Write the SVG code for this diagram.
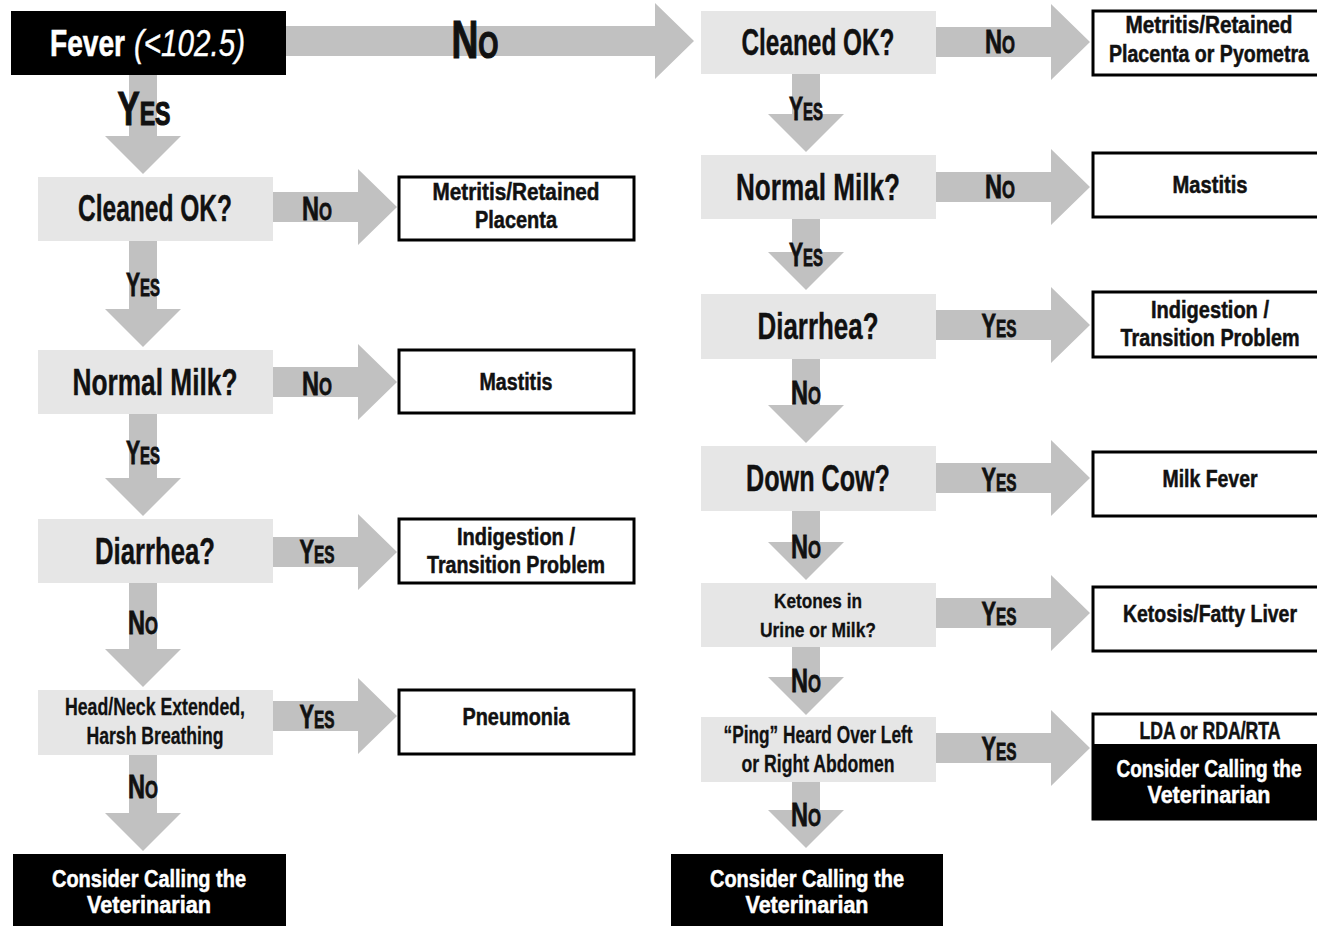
<svg xmlns="http://www.w3.org/2000/svg" width="1317" height="926" viewBox="0 0 1317 926">
<style>
.ar{fill:#c1c1c1}
.q{fill:#e6e6e6}
.r{fill:#fff;stroke:#000;stroke-width:3}
text{font-family:"Liberation Sans",Arial,sans-serif;font-weight:bold;text-anchor:middle;fill:#111}
.qt{font-size:36px;stroke:#111;stroke-width:0.4}
.qs{font-size:23px;stroke:#111;stroke-width:0.3}
.qk{font-size:21px;stroke:#111;stroke-width:0.3}
.lbl{font-size:34px;font-variant:small-caps;stroke:#111;stroke-width:0.8}
.big{font-variant:small-caps;stroke:#111;stroke-width:1.2}
.rt{font-size:23px;stroke:#111;stroke-width:0.5}
.wt{fill:#fff;font-size:24px;stroke:#fff;stroke-width:0.5}
.fv{font-size:36px;fill:#fff;text-anchor:start}
</style>
<rect width="1317" height="926" fill="#fff"/>
<g id="connectors">
  <path class="ar" d="M286,26 H655 V3 L694,41 L655,79 V56 H286 Z"/>
  <path class="ar" d="M129,75 V136 H105 L143,174 L181,136 H157 V75 Z"/>
  <path class="ar" d="M129,241 V309 H105 L143,347 L181,309 H157 V241 Z"/>
  <path class="ar" d="M129,414 V478 H105 L143,516 L181,478 H157 V414 Z"/>
  <path class="ar" d="M129,583 V649 H105 L143,687 L181,649 H157 V583 Z"/>
  <path class="ar" d="M129,755 V813 H105 L143,851 L181,813 H157 V755 Z"/>
  <path class="ar" d="M273,192 H358 V169 L397,207 L358,245 V222 H273 Z"/>
  <path class="ar" d="M273,367 H358 V344 L397,382 L358,420 V397 H273 Z"/>
  <path class="ar" d="M273,537 H358 V514 L397,552 L358,590 V567 H273 Z"/>
  <path class="ar" d="M273,701 H358 V678 L397,716 L358,754 V731 H273 Z"/>
  <path class="ar" d="M792,74 V114 H768 L806,152 L844,114 H820 V74 Z"/>
  <path class="ar" d="M792,219 V252 H768 L806,290 L844,252 H820 V219 Z"/>
  <path class="ar" d="M792,359 V405 H768 L806,443 L844,405 H820 V359 Z"/>
  <path class="ar" d="M792,511 V542 H768 L806,580 L844,542 H820 V511 Z"/>
  <path class="ar" d="M792,647 V677 H768 L806,715 L844,677 H820 V647 Z"/>
  <path class="ar" d="M792,782 V810 H768 L806,848 L844,810 H820 V782 Z"/>
  <path class="ar" d="M936,27 H1051 V4 L1090,42 L1051,80 V57 H936 Z"/>
  <path class="ar" d="M936,172 H1051 V149 L1090,187 L1051,225 V202 H936 Z"/>
  <path class="ar" d="M936,310 H1051 V287 L1090,325 L1051,363 V340 H936 Z"/>
  <path class="ar" d="M936,463 H1051 V440 L1090,478 L1051,516 V493 H936 Z"/>
  <path class="ar" d="M936,598 H1051 V575 L1090,613 L1051,651 V628 H936 Z"/>
  <path class="ar" d="M936,733 H1051 V710 L1090,748 L1051,786 V763 H936 Z"/>
  <text class="big" x="475" y="58" style="font-size:53px" textLength="47" lengthAdjust="spacingAndGlyphs">No</text>
  <text class="big" x="144" y="125" style="font-size:49px" textLength="53" lengthAdjust="spacingAndGlyphs">Yes</text>
  <text class="lbl" x="143" y="296" textLength="34" lengthAdjust="spacingAndGlyphs">Yes</text>
  <text class="lbl" x="143" y="464" textLength="34" lengthAdjust="spacingAndGlyphs">Yes</text>
  <text class="lbl" x="143" y="634" textLength="30" lengthAdjust="spacingAndGlyphs">No</text>
  <text class="lbl" x="143" y="798" textLength="30" lengthAdjust="spacingAndGlyphs">No</text>
  <text class="lbl" x="317" y="220" textLength="30" lengthAdjust="spacingAndGlyphs">No</text>
  <text class="lbl" x="317" y="395" textLength="30" lengthAdjust="spacingAndGlyphs">No</text>
  <text class="lbl" x="317" y="563" textLength="35" lengthAdjust="spacingAndGlyphs">Yes</text>
  <text class="lbl" x="317" y="728" textLength="35" lengthAdjust="spacingAndGlyphs">Yes</text>
  <text class="lbl" x="806" y="120" textLength="34" lengthAdjust="spacingAndGlyphs">Yes</text>
  <text class="lbl" x="806" y="266" textLength="34" lengthAdjust="spacingAndGlyphs">Yes</text>
  <text class="lbl" x="806" y="404" textLength="30" lengthAdjust="spacingAndGlyphs">No</text>
  <text class="lbl" x="806" y="558" textLength="30" lengthAdjust="spacingAndGlyphs">No</text>
  <text class="lbl" x="806" y="692" textLength="30" lengthAdjust="spacingAndGlyphs">No</text>
  <text class="lbl" x="806" y="826" textLength="30" lengthAdjust="spacingAndGlyphs">No</text>
  <text class="lbl" x="1000" y="53" textLength="30" lengthAdjust="spacingAndGlyphs">No</text>
  <text class="lbl" x="1000" y="198" textLength="30" lengthAdjust="spacingAndGlyphs">No</text>
  <text class="lbl" x="999" y="337" textLength="35" lengthAdjust="spacingAndGlyphs">Yes</text>
  <text class="lbl" x="999" y="491" textLength="35" lengthAdjust="spacingAndGlyphs">Yes</text>
  <text class="lbl" x="999" y="625" textLength="35" lengthAdjust="spacingAndGlyphs">Yes</text>
  <text class="lbl" x="999" y="760" textLength="35" lengthAdjust="spacingAndGlyphs">Yes</text>
</g>
<g id="fever">
  <rect x="11" y="11" width="275" height="64" fill="#000"/>
  <text class="fv" x="50" y="56" style="stroke:#fff;stroke-width:0.6" textLength="75" lengthAdjust="spacingAndGlyphs">Fever</text>
  <text class="fv" x="134" y="56" style="font-style:italic;font-weight:normal;stroke:#fff;stroke-width:0.4" textLength="111" lengthAdjust="spacingAndGlyphs">(&lt;102.5)</text>
</g>
<g id="l-cleaned">
  <rect class="q" x="38" y="177" width="235" height="64"/>
  <text class="qt" x="155" y="221" textLength="154" lengthAdjust="spacingAndGlyphs">Cleaned OK?</text>
</g>
<g id="l-metritis">
  <rect class="r" x="399" y="177" width="235" height="63"/>
  <text class="rt" x="516" y="200" textLength="167" lengthAdjust="spacingAndGlyphs">Metritis/Retained</text>
  <text class="rt" x="516" y="228" textLength="82" lengthAdjust="spacingAndGlyphs">Placenta</text>
</g>
<g id="l-normal">
  <rect class="q" x="38" y="350" width="235" height="64"/>
  <text class="qt" x="155" y="395" textLength="165" lengthAdjust="spacingAndGlyphs">Normal Milk?</text>
</g>
<g id="l-mastitis">
  <rect class="r" x="399" y="350" width="235" height="63"/>
  <text class="rt" x="516" y="390" textLength="73" lengthAdjust="spacingAndGlyphs">Mastitis</text>
</g>
<g id="l-diarrhea">
  <rect class="q" x="38" y="519" width="235" height="64"/>
  <text class="qt" x="155" y="564" textLength="120" lengthAdjust="spacingAndGlyphs">Diarrhea?</text>
</g>
<g id="l-indigestion">
  <rect class="r" x="399" y="519" width="235" height="64"/>
  <text class="rt" x="516" y="545" textLength="118" lengthAdjust="spacingAndGlyphs">Indigestion /</text>
  <text class="rt" x="516" y="573" textLength="178" lengthAdjust="spacingAndGlyphs">Transition Problem</text>
</g>
<g id="l-headneck">
  <rect class="q" x="38" y="690" width="235" height="65"/>
  <text class="qs" x="155" y="715" textLength="180" lengthAdjust="spacingAndGlyphs">Head/Neck Extended,</text>
  <text class="qs" x="155" y="744" textLength="137" lengthAdjust="spacingAndGlyphs">Harsh Breathing</text>
</g>
<g id="l-pneumonia">
  <rect class="r" x="399" y="690" width="235" height="64"/>
  <text class="rt" x="516" y="725" textLength="107" lengthAdjust="spacingAndGlyphs">Pneumonia</text>
</g>
<g id="l-vet">
  <rect x="13" y="854" width="273" height="72" fill="#000"/>
  <text class="wt" x="149" y="887" textLength="194" lengthAdjust="spacingAndGlyphs">Consider Calling the</text>
  <text class="wt" x="149" y="913" textLength="124" lengthAdjust="spacingAndGlyphs">Veterinarian</text>
</g>
<g id="r-cleaned">
  <rect class="q" x="701" y="11" width="235" height="63"/>
  <text class="qt" x="818" y="55" textLength="153" lengthAdjust="spacingAndGlyphs">Cleaned OK?</text>
</g>
<g id="r-metritis">
  <rect class="r" x="1093" y="11" width="226" height="64"/>
  <text class="rt" x="1209" y="33" textLength="167" lengthAdjust="spacingAndGlyphs">Metritis/Retained</text>
  <text class="rt" x="1209" y="62" textLength="200" lengthAdjust="spacingAndGlyphs">Placenta or Pyometra</text>
</g>
<g id="r-normal">
  <rect class="q" x="701" y="155" width="235" height="64"/>
  <text class="qt" x="818" y="200" textLength="164" lengthAdjust="spacingAndGlyphs">Normal Milk?</text>
</g>
<g id="r-mastitis">
  <rect class="r" x="1093" y="153" width="226" height="64"/>
  <text class="rt" x="1210" y="193" textLength="75" lengthAdjust="spacingAndGlyphs">Mastitis</text>
</g>
<g id="r-diarrhea">
  <rect class="q" x="701" y="294" width="235" height="65"/>
  <text class="qt" x="818" y="339" textLength="121" lengthAdjust="spacingAndGlyphs">Diarrhea?</text>
</g>
<g id="r-indigestion">
  <rect class="r" x="1093" y="292" width="226" height="65"/>
  <text class="rt" x="1210" y="318" textLength="118" lengthAdjust="spacingAndGlyphs">Indigestion /</text>
  <text class="rt" x="1210" y="346" textLength="179" lengthAdjust="spacingAndGlyphs">Transition Problem</text>
</g>
<g id="r-downcow">
  <rect class="q" x="701" y="446" width="235" height="65"/>
  <text class="qt" x="818" y="491" textLength="144" lengthAdjust="spacingAndGlyphs">Down Cow?</text>
</g>
<g id="r-milkfever">
  <rect class="r" x="1093" y="452" width="226" height="64"/>
  <text class="rt" x="1210" y="487" textLength="95" lengthAdjust="spacingAndGlyphs">Milk Fever</text>
</g>
<g id="r-ketones">
  <rect class="q" x="701" y="583" width="235" height="64"/>
  <text class="qk" x="818" y="608" textLength="88" lengthAdjust="spacingAndGlyphs">Ketones in</text>
  <text class="qk" x="818" y="637" textLength="116" lengthAdjust="spacingAndGlyphs">Urine or Milk?</text>
</g>
<g id="r-ketosis">
  <rect class="r" x="1093" y="587" width="226" height="64"/>
  <text class="rt" x="1210" y="622" textLength="174" lengthAdjust="spacingAndGlyphs">Ketosis/Fatty Liver</text>
</g>
<g id="r-ping">
  <rect class="q" x="701" y="717" width="235" height="65"/>
  <text class="qs" x="818" y="743" textLength="189" lengthAdjust="spacingAndGlyphs">“Ping” Heard Over Left</text>
  <text class="qs" x="818" y="772" textLength="153" lengthAdjust="spacingAndGlyphs">or Right Abdomen</text>
</g>
<g id="r-lda">
  <rect x="1093" y="744" width="226" height="75" fill="#000"/>
  <rect x="1093" y="714" width="226" height="105" fill="none" stroke="#000" stroke-width="3"/>
  <text class="rt" x="1210" y="739" textLength="141" lengthAdjust="spacingAndGlyphs">LDA or RDA/RTA</text>
  <text class="wt" x="1209" y="777" textLength="185" lengthAdjust="spacingAndGlyphs">Consider Calling the</text>
  <text class="wt" x="1209" y="803" textLength="123" lengthAdjust="spacingAndGlyphs">Veterinarian</text>
</g>
<g id="r-vet">
  <rect x="671" y="854" width="272" height="72" fill="#000"/>
  <text class="wt" x="807" y="887" textLength="194" lengthAdjust="spacingAndGlyphs">Consider Calling the</text>
  <text class="wt" x="807" y="913" textLength="123" lengthAdjust="spacingAndGlyphs">Veterinarian</text>
</g>
</svg>
